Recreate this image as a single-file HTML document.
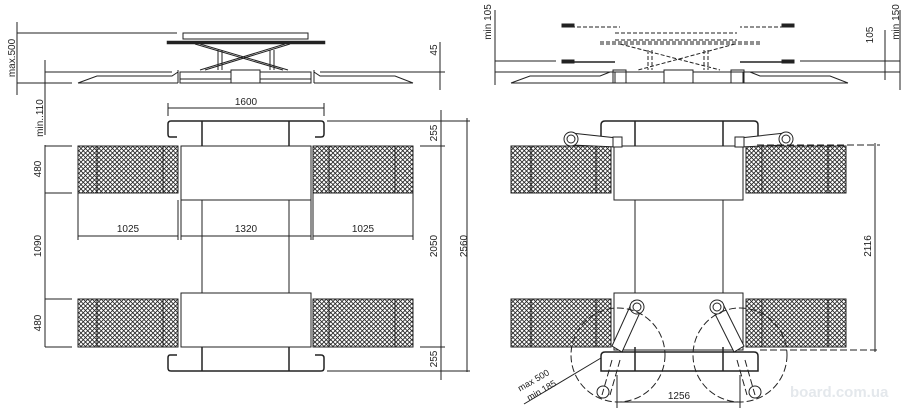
<!DOCTYPE html>
<html><head><meta charset="utf-8"><style>
html,body{margin:0;padding:0;background:#fff;}
svg{display:block;font-family:"Liberation Sans",sans-serif;}
text{font-size:10px;fill:#222;}
</style></head><body>
<svg width="908" height="420" viewBox="0 0 908 420" xmlns="http://www.w3.org/2000/svg">
<defs>
<pattern id="h" width="4.5" height="4.5" patternUnits="userSpaceOnUse">
<path d="M0,0 L4.5,4.5 M4.5,0 L0,4.5" stroke="#222" stroke-width="0.8"/>
</pattern>
</defs>
<g stroke="#222" fill="none" stroke-width="1">

<!-- LEFT SIDE VIEW -->
<line x1="17" y1="33" x2="177" y2="33"/>
<line x1="17" y1="22" x2="17" y2="95"/>
<line x1="45" y1="72" x2="172" y2="72"/>
<line x1="45" y1="60" x2="45" y2="135"/>
<line x1="17" y1="83" x2="72" y2="83"/>
<rect x="183" y="33" width="125" height="6" fill="#fff"/>
<rect x="167" y="41" width="158" height="3" fill="#222" stroke-width="0.5"/>
<path d="M195,44 L283,70 M200,44 L288,70 M290,44 L205,70 M285,44 L200,70"/>
<path d="M218,50 V70 M222,50 V70 M270,50 V70 M274,50 V70"/>
<path d="M78,83 L97,76 L172,76 L178,72 M78,83 H178"/>
<path d="M413,83 L395,76 L320,76 L314,72 M314,83 H413"/>
<rect x="180" y="72" width="131" height="11"/>
<line x1="180" y1="79" x2="311" y2="79"/>
<rect x="231" y="70" width="29" height="13" fill="#fff"/>
<line x1="178" y1="70" x2="178" y2="83"/><line x1="314" y1="70" x2="314" y2="83"/>
<line x1="320" y1="72" x2="445" y2="72"/>
<line x1="440" y1="42" x2="440" y2="90"/>

<!-- LEFT PLAN -->
<line x1="168" y1="108" x2="324" y2="108"/>
<line x1="168" y1="103" x2="168" y2="116"/><line x1="324" y1="103" x2="324" y2="116"/>
<path d="M177,137 H170 Q168,137 168,134 V124 Q168,121 171,121 H321 Q324,121 324,124 V134 Q324,137 321,137 H315" stroke-width="1.5"/>
<path d="M177,355 H170 Q168,355 168,358 V368 Q168,371 171,371 H321 Q324,371 324,368 V358 Q324,355 321,355 H315" stroke-width="1.5"/>
<path d="M202,121 V146 M289,121 V146 M202,347 V371 M289,347 V371" stroke-width="1.5"/>
<path d="M202,200 V293 M289,200 V293"/>
<rect x="181" y="146" width="130" height="54" fill="#fff"/>
<rect x="181" y="293" width="130" height="54" fill="#fff"/>
<g fill="url(#h)">
<rect x="78" y="146" width="100" height="47"/><rect x="313" y="146" width="100" height="47"/>
<rect x="78" y="299" width="100" height="48"/><rect x="313" y="299" width="100" height="48"/>
</g>
<path d="M97,146 V193 M163,146 V193 M329,146 V193 M395,146 V193 M97,299 V347 M163,299 V347 M329,299 V347 M395,299 V347"/>
<path d="M78,193 V240 M178,200 V240 M181,200 V240 M311,200 V240 M313,193 V240 M413,193 V240"/>
<path d="M78,236 H178 M181,236 H311 M313,236 H413"/>
<path d="M45,145 V347 M45,146 H72 M45,193 H72 M45,299 H72 M45,347 H72"/>
<path d="M441,110 V380 M420,146 H445 M327,121 H470 M327,371 H470 M420,347 H445 M467,118 V372"/>

<!-- RIGHT SIDE VIEW -->
<line x1="495" y1="10" x2="495" y2="85"/>
<line x1="495" y1="61" x2="556" y2="61"/>
<line x1="800" y1="61" x2="900" y2="61"/>
<line x1="495" y1="72" x2="900" y2="72"/>
<line x1="885" y1="30" x2="885" y2="80"/>
<line x1="900" y1="10" x2="900" y2="90"/>
<path d="M511,83 L530,76 L600,76 L610,72 M511,83 H615"/>
<path d="M848,83 L830,76 L760,76 L750,72 M743,83 H848"/>
<rect x="615" y="72" width="128" height="11"/>
<rect x="664" y="70" width="29" height="13" fill="#fff"/>
<g stroke-dasharray="4,2">
<path d="M600,42 H760 M600,44 H760 M615,33 H737 M615,40 H737"/>
<path d="M620,44 L720,70 M735,44 L638,70 M648,50 V70 M652,50 V70 M704,50 V70 M708,50 V70"/>
<path d="M565,27 H620 M790,27 H740"/>
</g>
<path d="M565,62 H615 M790,62 H740" stroke-width="1.5"/>
<rect x="562" y="60" width="12" height="3" fill="#222"/><rect x="782" y="60" width="12" height="3" fill="#222"/>
<rect x="562" y="24" width="12" height="3" fill="#222"/><rect x="782" y="24" width="12" height="3" fill="#222"/>
<rect x="613" y="70" width="13" height="13"/><rect x="731" y="70" width="13" height="13"/>

<!-- RIGHT PLAN -->
<path d="M601,146 V125 Q601,121 605,121 H754 Q758,121 758,125 V146" stroke-width="1.5"/>
<path d="M635,121 V146 M723,121 V146" stroke-width="1.5"/>
<path d="M635,200 V293 M723,200 V293"/>
<rect x="614" y="146" width="129" height="54" fill="#fff"/>
<rect x="614" y="293" width="129" height="57" fill="#fff"/>
<path d="M601,371 V356 Q601,352 605,352 H754 Q758,352 758,356 V371 Z" stroke-width="1.5" fill="#fff"/>
<path d="M635,347 V371 M723,347 V371" stroke-width="1.5"/>
<g fill="url(#h)">
<rect x="511" y="146" width="100" height="47"/><rect x="746" y="146" width="100" height="47"/>
<rect x="511" y="299" width="100" height="48"/><rect x="746" y="299" width="100" height="48"/>
</g>
<path d="M531,146 V193 M596,146 V193 M762,146 V193 M828,146 V193 M531,299 V347 M596,299 V347 M762,299 V347 M828,299 V347"/>
<!-- top arms -->
<path d="M571,133 L617,138 L617,147 L571,145 Z" fill="#fff"/>
<path d="M785,133 L740,138 L740,147 L785,145 Z" fill="#fff"/>
<circle cx="571" cy="139" r="7" fill="#fff"/><circle cx="571" cy="139" r="4"/>
<circle cx="786" cy="139" r="7" fill="#fff"/><circle cx="786" cy="139" r="4"/>
<rect x="613" y="137" width="9" height="10" fill="#fff"/><rect x="735" y="137" width="9" height="10" fill="#fff"/>
<!-- bottom arms -->
<path d="M632,302 L642,308 L622,352 L612,346 Z" fill="#fff"/>
<path d="M722,302 L712,308 L734,352 L744,346 Z" fill="#fff"/>
<circle cx="637" cy="307" r="7" fill="#fff"/><circle cx="637" cy="307" r="4"/>
<circle cx="717" cy="307" r="7" fill="#fff"/><circle cx="717" cy="307" r="4"/>
<g stroke-dasharray="7,3">
<circle cx="618" cy="355" r="47"/><circle cx="740" cy="355" r="47"/>
<path d="M757,145 H880 M760,350 H880"/>
<path d="M612,360 L602,395 M620,360 L610,395 M745,360 L755,395 M737,360 L747,395"/>
</g>
<circle cx="603" cy="392" r="6"/><circle cx="755" cy="392" r="6"/>
<path d="M875,143 V352"/>
<path d="M617,375 V408 M740,375 V408 M617,402 H740"/>
<path d="M524,404 L601,358"/>
</g>
<g text-anchor="middle">
<text x="246" y="105">1600</text>
<text x="128" y="232">1025</text><text x="246" y="232">1320</text><text x="363" y="232">1025</text>
<text x="679" y="399">1256</text>
<text transform="translate(15,58) rotate(-90)">max.500</text>
<text transform="translate(43,118) rotate(-90)">min..110</text>
<text transform="translate(437,50) rotate(-90)">45</text>
<text transform="translate(41,169) rotate(-90)">480</text>
<text transform="translate(41,246) rotate(-90)">1090</text>
<text transform="translate(41,323) rotate(-90)">480</text>
<text transform="translate(437,133) rotate(-90)">255</text>
<text transform="translate(437,246) rotate(-90)">2050</text>
<text transform="translate(437,359) rotate(-90)">255</text>
<text transform="translate(467,246) rotate(-90)">2560</text>
<text transform="translate(871,246) rotate(-90)">2116</text>
<text transform="translate(491,22) rotate(-90)">min 105</text>
<text transform="translate(873,35) rotate(-90)">105</text>
<text transform="translate(899,22) rotate(-90)">min 150</text>
<text transform="translate(535,383) rotate(-30)" style="font-size:9px">max 500</text>
<text transform="translate(543,393) rotate(-30)" style="font-size:9px">min 185</text>
</g>
<text x="790" y="397" style="font-size:15px;fill:#e4e8ec;font-weight:bold">board.com.ua</text>
</svg>
</body></html>
